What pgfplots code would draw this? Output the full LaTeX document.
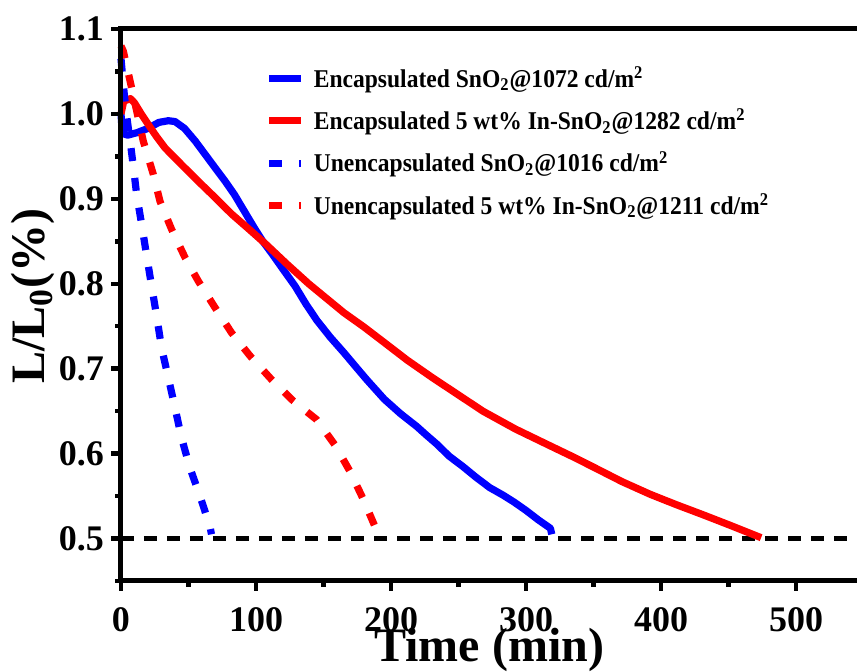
\documentclass[border=0pt]{standalone}
\usepackage{pgfplots}
\pgfplotsset{compat=1.18}
\usepackage{fontspec}
\setmainfont{Liberation Serif}
\newfontfamily\legfont{Liberation Serif Bold}[FakeStretch=0.92]
\definecolor{pblue}{RGB}{0,0,255}
\definecolor{pred}{RGB}{255,0,0}
\begin{document}
\begin{tikzpicture}
\begin{axis}[
  at={(0pt,0pt)}, anchor=south west,
  scale only axis, width=369pt, height=276pt,
  xmin=0, xmax=546.5, ymin=0.45, ymax=1.1,
  axis line style={draw=none},
  xtick={0,100,...,500}, ytick={0.5,0.6,...,1.1},
  minor x tick num=1, minor y tick num=1,
  tick align=outside, xtick pos=left, ytick pos=left,
  major tick length=5pt, minor tick length=3pt,
  tick style={draw=none},
  /pgf/number format/assume math mode=true,
  ticklabel style={font=\fontsize{18}{20}\selectfont\bfseries},
  yticklabel style={/pgf/number format/.cd, fixed, fixed zerofill, precision=1},
  xticklabel style={yshift=-4.5pt, /pgf/number format/.cd, fixed, precision=0},
  xlabel={Time (min)},
  ylabel={L/L\textsubscript{0}(\%)},
  label style={font=\fontsize{24}{26}\selectfont\bfseries},
  xlabel style={at={(axis description cs:0.499,-0.146)}, anchor=base},
  ylabel style={at={(axis description cs:-0.103,0.516)}, anchor=base},
  legend style={at={(rel axis cs:0.19,0.947)}, anchor=north west, draw=none, fill=none,
    font=\legfont\fontsize{12.8}{14.5}\selectfont, row sep=5.4pt, inner sep=2pt,
    cells={anchor=west}, /tikz/every node/.append style={inner xsep=4.5pt}},
  legend image code/.code={\draw[#1] (0pt,0pt) -- (16pt,0pt);},
  clip=false,
  unbounded coords=jump,
]
\addplot[black, line width=2.2pt, dash pattern=on 6.5pt off 5pt, forget plot] coordinates {(0,0.5) (546.5,0.5)};

\addplot[pblue, line width=3.6pt, line join=round] coordinates {
(0,1.0) (1,0.977) (5,0.975) (12,0.978) (20,0.983) (28,0.990) (35,0.992) (40,0.991)
(47,0.983) (55,0.968) (62,0.953) (69,0.938) (77,0.921) (84,0.905) (90,0.889) (99,0.865) (105,0.850) (112,0.835)
(120,0.817) (129,0.797) (137,0.776) (145,0.757) (155,0.737) (165,0.719) (174,0.702) (182,0.687) (195,0.664) (207,0.647) (219,0.632)
(226,0.622) (234,0.611) (243,0.597) (253,0.585) (263,0.572) (273,0.560) (283,0.551) (291,0.543) (300,0.533) (309,0.522) (318,0.512) (319,0.505)};
\addlegendentry{Encapsulated SnO\textsubscript{2}@1072 cd/m\textsuperscript{2}}

\addplot[pred, line width=3.6pt, line join=round] coordinates {
(0,1.0) (2,1.015) (7,1.018) (10,1.013) (15,1.0) (20,0.988) (26,0.974) (32.6,0.960) (45,0.940) (57,0.921) (70,0.901) (82,0.882) (95,0.864)
(107,0.847) (123,0.823) (139,0.800) (152,0.783) (165,0.766) (180,0.749) (194,0.732) (212,0.710) (231,0.689) (250,0.669) (268,0.650)
(292,0.629) (318,0.609) (335,0.596) (350,0.584) (371,0.567) (392,0.552) (411,0.540) (431,0.528) (452,0.515) (474,0.501)};
\addlegendentry{Encapsulated 5 wt\% In-SnO\textsubscript{2}@1282 cd/m\textsuperscript{2}}

\addplot[pblue, line width=3.6pt, dash pattern=on 6.5pt off 8.5pt] coordinates {
(0,1.065) (2,1.03) (4,1.0) (7,0.965) (9,0.94) (11.6,0.905) (15.3,0.870) (19.0,0.833)
(22.7,0.797) (26.4,0.762) (30.1,0.724) (35.1,0.689) (40.0,0.654) (44.9,0.618)
(51.1,0.583) (58.5,0.550) (65.9,0.514) (67,0.505)};
\addlegendentry{Unencapsulated SnO\textsubscript{2}@1016 cd/m\textsuperscript{2}}

\addplot[pred, line width=3.6pt, dash pattern=on 6.5pt off 8.5pt] coordinates {
(0,1.08) (1.7,1.074) (6.7,1.039) (16.5,0.968) (23.9,0.929) (28.9,0.897) (37.5,0.864)
(47.4,0.831) (57.3,0.803) (69.6,0.772) (82.0,0.742) (95.6,0.715) (111.6,0.687)
(127.6,0.662) (144.9,0.640) (158.5,0.610) (169.6,0.579) (179.5,0.546) (188.1,0.514)
(190,0.505)};
\addlegendentry{Unencapsulated 5 wt\% In-SnO\textsubscript{2}@1211 cd/m\textsuperscript{2}}

% axis frame: top, left, bottom (no right spine)
\addplot[black, line width=2.5pt, line join=miter, forget plot] coordinates {(546.5,1.1) (0,1.1) (0,0.45) (546.5,0.45)};
% x ticks (major and minor), outside
\addplot[black, line width=2.2pt, forget plot] coordinates {
(0,0.45) (0,0.4387) (nan,nan) (100,0.45) (100,0.4387) (nan,nan) (200,0.45) (200,0.4387) (nan,nan)
(300,0.45) (300,0.4387) (nan,nan) (400,0.45) (400,0.4387) (nan,nan) (500,0.45) (500,0.4387) (nan,nan)
(50,0.45) (50,0.4425) (nan,nan) (150,0.45) (150,0.4425) (nan,nan) (250,0.45) (250,0.4425) (nan,nan)
(350,0.45) (350,0.4425) (nan,nan) (450,0.45) (450,0.4425)};
% y ticks (major and minor), outside
\addplot[black, line width=2.2pt, forget plot] coordinates {
(0,0.5) (-7.1,0.5) (nan,nan) (0,0.6) (-7.1,0.6) (nan,nan) (0,0.7) (-7.1,0.7) (nan,nan)
(0,0.8) (-7.1,0.8) (nan,nan) (0,0.9) (-7.1,0.9) (nan,nan) (0,1.0) (-7.1,1.0) (nan,nan)
(0,1.1) (-7.1,1.1) (nan,nan)
(0,0.45) (-4.7,0.45) (nan,nan) (0,0.55) (-4.7,0.55) (nan,nan) (0,0.65) (-4.7,0.65) (nan,nan)
(0,0.75) (-4.7,0.75) (nan,nan) (0,0.85) (-4.7,0.85) (nan,nan) (0,0.95) (-4.7,0.95) (nan,nan)
(0,1.05) (-4.7,1.05)};
\end{axis}
\pgfresetboundingbox
\path[use as bounding box] (-60.5pt,-45.5pt) rectangle (368pt,290.5pt);
\end{tikzpicture}
\end{document}
